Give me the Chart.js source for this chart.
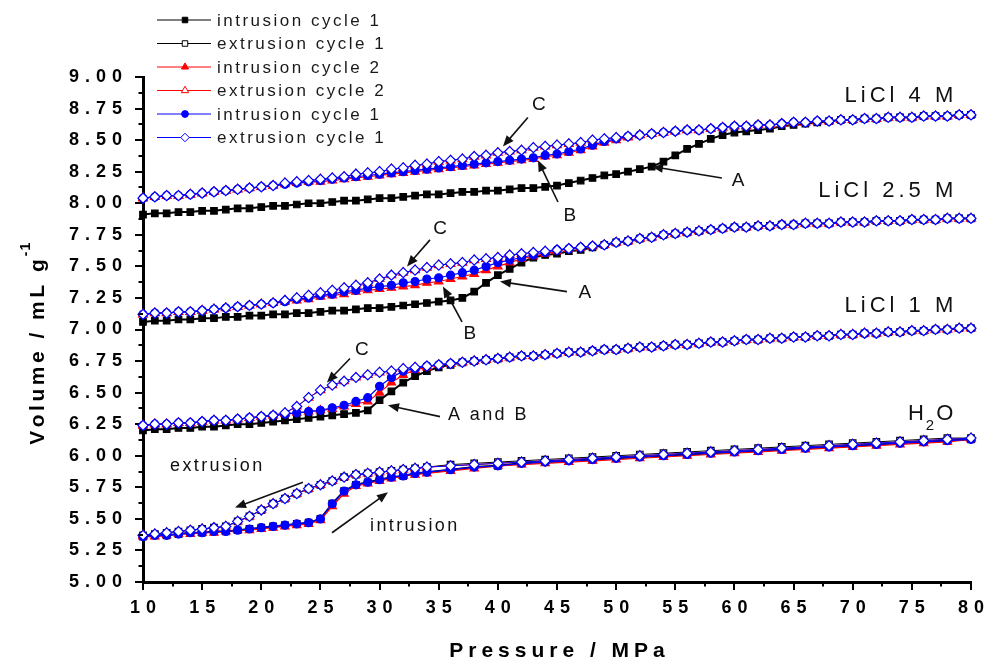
<!DOCTYPE html>
<html><head><meta charset="utf-8">
<script src="https://cdn.jsdelivr.net/npm/chart.js@4"></script>
<style>html,body{margin:0;padding:0;background:#fff}canvas{display:block}</style>
</head><body>
<canvas id="c" width="990" height="664"></canvas>
<script>
// ---------- data ----------
const PRESSURE = [10,11,12,13,14,15,16,17,18,19,20,21,22,23,24,25,26,27,28,29,30,31,32,33,34,35,36,37,38,39,40,41,42,43,44,45,46,47,48,49,50,51,52,53,54,55,56,57,58,59,60,61,62,63,64,65,66,67,68,69,70,71,72,73,74,75,76,77,78,79,80];
const PRESSURE_H2O = [10,11,12,13,14,15,16,17,18,19,20,21,22,23,24,25,26,27,28,29,30,31,32,33,34,36,38,40,42,44,46,48,50,52,54,56,58,60,62,64,66,68,70,72,74,76,78,80];

const X_TICKS = [10,15,20,25,30,35,40,45,50,55,60,65,70,75,80];
const Y_TICKS = [5.00,5.25,5.50,5.75,6.00,6.25,6.50,6.75,7.00,7.25,7.50,7.75,8.00,8.25,8.50,8.75,9.00];

const SERIES = ['intrusion cycle 1','extrusion cycle 1','intrusion cycle 2','extrusion cycle 2','intrusion cycle 1','extrusion cycle 1'];

// LiCl 4 M
const LICL4_INTR1 = [7.91,7.92,7.92,7.93,7.93,7.94,7.94,7.95,7.96,7.96,
 7.97,7.98,7.98,7.99,8.00,8.00,8.01,8.02,8.02,8.03,
 8.04,8.04,8.05,8.06,8.07,8.07,8.08,8.09,8.09,8.10,
 8.10,8.11,8.12,8.12,8.13,8.14,8.16,8.18,8.20,8.22,
 8.23,8.25,8.27,8.29,8.33,8.38,8.43,8.47,8.51,8.54,
 8.56,8.57,8.58,8.59,8.61,8.62,8.63,8.64,8.65,8.66,
 8.66,8.67,8.67,8.68,8.68,8.68,8.69,8.69,8.69,8.70,8.70];
const LICL4_INTR2 = [8.04,8.05,8.06,8.06,8.07,8.08,8.09,8.10,8.11,8.12,
 8.13,8.14,8.15,8.16,8.17,8.17,8.18,8.19,8.20,8.21,
 8.22,8.23,8.24,8.25,8.26,8.27,8.28,8.29,8.30,8.31,
 8.32,8.33,8.34,8.35,8.37,8.38,8.40,8.42,8.45,8.48,
 8.50,8.52,8.54,8.55,8.56,8.57,8.58,8.58,8.59,8.60,
 8.61,8.61,8.62,8.62,8.63,8.64,8.64,8.65,8.65,8.66,
 8.66,8.67,8.67,8.68,8.68,8.68,8.69,8.69,8.69,8.70,8.70];
const LICL4_INTR3 = [8.04,8.05,8.06,8.06,8.07,8.08,8.09,8.10,8.11,8.12,
 8.13,8.14,8.15,8.16,8.17,8.18,8.19,8.20,8.21,8.22,
 8.23,8.24,8.25,8.26,8.27,8.28,8.29,8.30,8.31,8.32,
 8.33,8.34,8.35,8.36,8.38,8.39,8.41,8.43,8.46,8.49,
 8.51,8.53,8.54,8.55,8.56,8.57,8.58,8.58,8.59,8.60,
 8.61,8.61,8.62,8.62,8.63,8.64,8.64,8.65,8.65,8.66,
 8.66,8.67,8.67,8.68,8.68,8.68,8.69,8.69,8.69,8.70,8.70];
const LICL4_EXTR = [8.04,8.05,8.06,8.06,8.07,8.08,8.09,8.10,8.11,8.12,
 8.13,8.14,8.16,8.17,8.18,8.19,8.20,8.21,8.23,8.24,
 8.25,8.27,8.28,8.30,8.31,8.33,8.34,8.35,8.37,8.38,
 8.40,8.41,8.42,8.44,8.45,8.46,8.47,8.48,8.50,8.51,
 8.52,8.53,8.54,8.55,8.56,8.57,8.58,8.58,8.59,8.60,
 8.61,8.61,8.62,8.62,8.63,8.64,8.64,8.65,8.65,8.66,
 8.66,8.67,8.67,8.68,8.68,8.68,8.69,8.69,8.69,8.70,8.70];

// LiCl 2.5 M
const LICL25_INTR1 = [7.06,7.07,7.07,7.08,7.08,7.09,7.09,7.10,7.10,7.11,
 7.11,7.12,7.12,7.13,7.13,7.14,7.15,7.15,7.16,7.17,
 7.17,7.18,7.19,7.20,7.21,7.22,7.23,7.25,7.30,7.37,
 7.43,7.48,7.53,7.57,7.59,7.60,7.62,7.63,7.65,7.67,
 7.69,7.70,7.72,7.73,7.75,7.76,7.77,7.78,7.79,7.80,
 7.81,7.81,7.82,7.82,7.83,7.83,7.84,7.84,7.84,7.85,
 7.85,7.85,7.86,7.86,7.86,7.87,7.87,7.87,7.88,7.88,7.88];
const LICL25_INTR2 = [7.12,7.13,7.13,7.14,7.14,7.15,7.16,7.17,7.18,7.19,
 7.20,7.21,7.22,7.23,7.24,7.26,7.27,7.28,7.30,7.31,
 7.32,7.33,7.34,7.35,7.37,7.38,7.40,7.42,7.44,7.47,
 7.50,7.53,7.56,7.58,7.60,7.62,7.64,7.65,7.66,7.67,
 7.69,7.70,7.72,7.73,7.75,7.76,7.77,7.78,7.79,7.80,
 7.81,7.81,7.82,7.82,7.83,7.83,7.84,7.84,7.84,7.85,
 7.85,7.85,7.86,7.86,7.86,7.87,7.87,7.87,7.88,7.88,7.88];
const LICL25_INTR3 = [7.12,7.13,7.13,7.14,7.14,7.15,7.16,7.17,7.18,7.19,
 7.20,7.21,7.22,7.24,7.25,7.27,7.28,7.30,7.31,7.33,
 7.34,7.35,7.37,7.38,7.40,7.41,7.43,7.45,7.47,7.50,
 7.53,7.55,7.57,7.59,7.61,7.63,7.64,7.65,7.66,7.67,
 7.69,7.70,7.72,7.73,7.75,7.76,7.77,7.78,7.79,7.80,
 7.81,7.81,7.82,7.82,7.83,7.83,7.84,7.84,7.84,7.85,
 7.85,7.85,7.86,7.86,7.86,7.87,7.87,7.87,7.88,7.88,7.88];
const LICL25_EXTR = [7.12,7.13,7.13,7.14,7.14,7.15,7.16,7.17,7.18,7.19,
 7.20,7.21,7.23,7.25,7.27,7.29,7.31,7.33,7.35,7.37,
 7.40,7.43,7.45,7.47,7.49,7.51,7.52,7.53,7.55,7.56,
 7.57,7.59,7.60,7.61,7.62,7.63,7.64,7.65,7.66,7.67,
 7.69,7.70,7.72,7.73,7.75,7.76,7.77,7.78,7.79,7.80,
 7.81,7.81,7.82,7.82,7.83,7.83,7.84,7.84,7.84,7.85,
 7.85,7.85,7.86,7.86,7.86,7.87,7.87,7.87,7.88,7.88,7.88];

// LiCl 1 M
const LICL1_INTR1 = [6.20,6.21,6.21,6.22,6.22,6.23,6.23,6.24,6.25,6.25,
 6.26,6.27,6.28,6.29,6.30,6.31,6.32,6.33,6.34,6.36,
 6.44,6.51,6.58,6.63,6.67,6.70,6.72,6.74,6.75,6.76,
 6.77,6.78,6.79,6.79,6.80,6.81,6.82,6.82,6.83,6.84,
 6.84,6.85,6.86,6.86,6.87,6.88,6.88,6.89,6.90,6.90,
 6.91,6.92,6.92,6.93,6.93,6.94,6.94,6.95,6.95,6.96,
 6.96,6.97,6.97,6.98,6.98,6.99,6.99,7.00,7.00,7.01,7.01];
const LICL1_INTR2 = [6.24,6.25,6.25,6.26,6.26,6.27,6.28,6.28,6.29,6.30,
 6.31,6.32,6.33,6.34,6.35,6.36,6.37,6.39,6.41,6.43,
 6.50,6.58,6.64,6.68,6.70,6.72,6.73,6.74,6.75,6.76,
 6.77,6.78,6.79,6.79,6.80,6.81,6.82,6.82,6.83,6.84,
 6.84,6.85,6.86,6.86,6.87,6.88,6.88,6.89,6.90,6.90,
 6.91,6.92,6.92,6.93,6.93,6.94,6.94,6.95,6.95,6.96,
 6.96,6.97,6.97,6.98,6.98,6.99,6.99,7.00,7.00,7.01,7.01];
const LICL1_INTR3 = [6.24,6.25,6.25,6.26,6.26,6.27,6.28,6.28,6.29,6.30,
 6.31,6.32,6.33,6.34,6.35,6.36,6.38,6.40,6.43,6.46,
 6.55,6.62,6.67,6.69,6.71,6.72,6.73,6.74,6.75,6.76,
 6.77,6.78,6.79,6.79,6.80,6.81,6.82,6.82,6.83,6.84,
 6.84,6.85,6.86,6.86,6.87,6.88,6.88,6.89,6.90,6.90,
 6.91,6.92,6.92,6.93,6.93,6.94,6.94,6.95,6.95,6.96,
 6.96,6.97,6.97,6.98,6.98,6.99,6.99,7.00,7.00,7.01,7.01];
const LICL1_EXTR = [6.24,6.25,6.25,6.26,6.26,6.27,6.28,6.28,6.29,6.30,
 6.31,6.32,6.34,6.39,6.46,6.52,6.56,6.59,6.62,6.64,
 6.66,6.67,6.69,6.70,6.71,6.72,6.73,6.74,6.75,6.76,
 6.77,6.78,6.79,6.79,6.80,6.81,6.82,6.82,6.83,6.84,
 6.84,6.85,6.86,6.86,6.87,6.88,6.88,6.89,6.90,6.90,
 6.91,6.92,6.92,6.93,6.93,6.94,6.94,6.95,6.95,6.96,
 6.96,6.97,6.97,6.98,6.98,6.99,6.99,7.00,7.00,7.01,7.01];

// H2O
const H2O_INTR1 = [5.36,5.37,5.37,5.38,5.39,5.39,5.40,5.40,5.41,5.42,
 5.43,5.44,5.45,5.46,5.47,5.50,5.62,5.72,5.77,5.79,
 5.81,5.83,5.84,5.86,5.87,
 5.89,5.91,5.92,5.94,5.95,5.96,5.97,5.98,5.99,6.00,6.01,6.02,6.03,6.04,6.05,6.06,6.07,6.08,6.09,6.10,6.11,6.12,6.13];
const H2O_EXTR1 = [5.37,5.38,5.39,5.40,5.41,5.42,5.43,5.44,5.48,5.52,
 5.57,5.62,5.66,5.70,5.74,5.77,5.80,5.83,5.85,5.86,
 5.87,5.88,5.89,5.90,5.91,
 5.93,5.94,5.95,5.96,5.97,5.98,5.99,6.00,6.01,6.02,6.03,6.04,6.05,6.06,6.07,6.08,6.09,6.10,6.11,6.12,6.13,6.14,6.14];
const H2O_INTR2 = [5.36,5.36,5.37,5.38,5.38,5.39,5.39,5.40,5.41,5.41,
 5.42,5.43,5.44,5.45,5.46,5.49,5.60,5.70,5.76,5.78,
 5.80,5.82,5.84,5.85,5.86,
 5.88,5.90,5.92,5.93,5.94,5.95,5.96,5.97,5.98,5.99,6.00,6.01,6.02,6.03,6.04,6.05,6.06,6.07,6.08,6.09,6.10,6.11,6.13];
const H2O_INTR3 = [5.36,5.37,5.37,5.38,5.39,5.39,5.40,5.40,5.41,5.42,
 5.43,5.44,5.45,5.46,5.47,5.50,5.62,5.72,5.77,5.79,
 5.81,5.83,5.84,5.86,5.87,
 5.89,5.91,5.92,5.94,5.95,5.96,5.97,5.98,5.99,6.00,6.01,6.02,6.03,6.04,6.05,6.06,6.07,6.08,6.09,6.10,6.11,6.12,6.13];
const H2O_EXTR = [5.37,5.38,5.39,5.40,5.41,5.42,5.43,5.44,5.48,5.52,
 5.57,5.62,5.66,5.70,5.74,5.77,5.80,5.83,5.85,5.86,
 5.87,5.88,5.89,5.90,5.91,
 5.92,5.93,5.94,5.95,5.96,5.97,5.98,5.99,6.00,6.01,6.02,6.03,6.04,6.05,6.06,6.07,6.08,6.09,6.10,6.11,6.12,6.13,6.14];

// Annotations (in data units: pressure, volume)
const CURVE_LABELS = [
  {text:'LiCl 4 M', p:78.5, v:8.85},
  {text:'LiCl 2.5 M', p:78.5, v:8.10},
  {text:'LiCl 1 M', p:78.5, v:7.19}
];
const LETTER_LABELS = [
  {text:'C', p:43.47, v:8.78, align:'center'},
  {text:'B', p:46.09, v:7.90, align:'center'},
  {text:'A', p:60.30, v:8.18, align:'center'},
  {text:'C', p:35.11, v:7.80, align:'center'},
  {text:'B', p:37.64, v:6.97, align:'center'},
  {text:'A', p:47.36, v:7.29, align:'center'},
  {text:'C', p:28.51, v:6.84, align:'center'},
  {text:'A and B', p:35.78, v:6.32, align:'left'},
  {text:'extrusion', p:12.28, v:5.92, align:'left'},
  {text:'intrusion', p:29.19, v:5.44, align:'left'}
];
const ARROWS = [
  [42.54,8.68,40.43,8.45],
  [45.08,8.01,43.39,8.34],
  [58.94,8.20,53.03,8.29],
  [34.26,7.71,32.32,7.50],
  [36.97,7.06,35.36,7.34],
  [45.84,7.30,40.18,7.38],
  [27.50,6.77,25.55,6.58],
  [35.11,6.31,30.71,6.40],
  [23.52,5.79,17.78,5.59],
  [25.98,5.39,30.71,5.71]
];

// ---------- styles ----------
const FONT = '"Liberation Sans", Arial, Helvetica, sans-serif';
const STYLES = [
  {color:'#000000', point:'rect',     fill:'#000000', r:4.6, order:5, lw:2},
  {color:'#000000', point:'rect',     fill:'#ffffff', r:4.6, order:4, lw:1},
  {color:'#ff0000', point:'triangle', fill:'#ff0000', r:4.8, order:3, lw:1.2},
  {color:'#ff0000', point:'triangle', fill:'#ffffff', r:5,   order:2, lw:1},
  {color:'#0000ff', point:'circle',   fill:'#0000ff', r:4,   order:1, lw:1.2},
  {color:'#0000ff', point:'rectRot',  fill:'#ffffff', r:5,   order:0, lw:1}
];
const CURVES = [
  {p:PRESSURE, s:[LICL4_INTR1, null, LICL4_INTR2, LICL4_EXTR, LICL4_INTR3, LICL4_EXTR]},
  {p:PRESSURE, s:[LICL25_INTR1, null, LICL25_INTR2, LICL25_EXTR, LICL25_INTR3, LICL25_EXTR]},
  {p:PRESSURE, s:[LICL1_INTR1, null, LICL1_INTR2, LICL1_EXTR, LICL1_INTR3, LICL1_EXTR]},
  {p:PRESSURE_H2O, s:[H2O_INTR1, H2O_EXTR1, H2O_INTR2, H2O_EXTR, H2O_INTR3, H2O_EXTR]}
];

const datasets = [];
CURVES.forEach(c => {
  c.s.forEach((ys, si) => {
    if (!ys) return;
    const st = STYLES[si];
    datasets.push({
      label: SERIES[si],
      data: c.p.map((x, i) => ({x: x, y: ys[i]})),
      borderColor: st.color,
      backgroundColor: st.fill,
      pointStyle: st.point,
      pointRadius: st.r,
      pointBorderColor: st.color,
      pointBackgroundColor: st.fill,
      pointBorderWidth: 1.2,
      borderWidth: st.lw,
      order: st.order,
      tension: 0,
      clip: false
    });
  });
});

// ---------- helpers ----------
function spacedText(ctx, text, x, y, sp, align) {
  const chars = Array.from(text);
  const widths = chars.map(ch => ctx.measureText(ch).width);
  const total = widths.reduce((a, b) => a + b, 0) + sp * (chars.length - 1);
  let cx = align === 'center' ? x - total / 2 : (align === 'right' ? x - total : x);
  ctx.textAlign = 'left';
  chars.forEach((ch, i) => { ctx.fillText(ch, cx, y); cx += widths[i] + sp; });
  return total;
}
function spacedWidth(ctx, text, sp) {
  const chars = Array.from(text);
  return chars.reduce((a, ch) => a + ctx.measureText(ch).width, 0) + sp * (chars.length - 1);
}
function marker(ctx, st, x, y) {
  ctx.save();
  ctx.fillStyle = st.fill; ctx.strokeStyle = st.color; ctx.lineWidth = 1;
  ctx.beginPath();
  const r = st.r * 0.85;
  if (st.point === 'rect') { const s = r * Math.SQRT1_2; ctx.rect(x - s, y - s, 2 * s, 2 * s); }
  else if (st.point === 'circle') { ctx.arc(x, y, r, 0, Math.PI * 2); }
  else if (st.point === 'rectRot') { ctx.moveTo(x, y - r); ctx.lineTo(x + r, y); ctx.lineTo(x, y + r); ctx.lineTo(x - r, y); ctx.closePath(); }
  else if (st.point === 'triangle') {
    ctx.moveTo(x, y - r); ctx.lineTo(x + r * 0.866, y + r * 0.5); ctx.lineTo(x - r * 0.866, y + r * 0.5); ctx.closePath();
  }
  ctx.fill(); ctx.stroke();
  ctx.restore();
}
function arrow(ctx, x1, y1, x2, y2) {
  const ang = Math.atan2(y2 - y1, x2 - x1);
  const L = 11, W = 4.5;
  ctx.save();
  ctx.strokeStyle = '#111'; ctx.fillStyle = '#111'; ctx.lineWidth = 1.6;
  ctx.beginPath();
  ctx.moveTo(x1, y1);
  ctx.lineTo(x2 - Math.cos(ang) * (L - 2), y2 - Math.sin(ang) * (L - 2));
  ctx.stroke();
  ctx.beginPath();
  ctx.moveTo(x2, y2);
  ctx.lineTo(x2 - Math.cos(ang) * L - Math.sin(ang) * W, y2 - Math.sin(ang) * L + Math.cos(ang) * W);
  ctx.lineTo(x2 - Math.cos(ang) * L + Math.sin(ang) * W, y2 - Math.sin(ang) * L - Math.cos(ang) * W);
  ctx.closePath();
  ctx.fill();
  ctx.restore();
}

// ---------- decoration plugin ----------
const decor = {
  id: 'decor',
  afterDraw(chart) {
    const ctx = chart.ctx;
    const xs = chart.scales.x, ys = chart.scales.y, area = chart.chartArea;
    ctx.save();
    // minor ticks
    ctx.strokeStyle = '#000'; ctx.lineWidth = 2;
    for (let i = 0; i < X_TICKS.length - 1; i++) {
      const px = Math.round(xs.getPixelForValue((X_TICKS[i] + X_TICKS[i + 1]) / 2));
      ctx.beginPath(); ctx.moveTo(px, area.bottom); ctx.lineTo(px, area.bottom + 4.5); ctx.stroke();
    }
    for (let i = 0; i < Y_TICKS.length - 1; i++) {
      const py = Math.round(ys.getPixelForValue((Y_TICKS[i] + Y_TICKS[i + 1]) / 2));
      ctx.beginPath(); ctx.moveTo(area.left, py); ctx.lineTo(area.left - 4.5, py); ctx.stroke();
    }
    // tick labels
    ctx.fillStyle = '#000';
    ctx.font = 'bold 18px ' + FONT;
    ctx.textBaseline = 'middle';
    X_TICKS.forEach(v => spacedText(ctx, String(v), xs.getPixelForValue(v), 608, 6, 'center'));
    Y_TICKS.forEach(v => spacedText(ctx, v.toFixed(2), 122, ys.getPixelForValue(v), 6, 'right'));
    // axis titles
    ctx.font = 'bold 21px ' + FONT;
    spacedText(ctx, 'Pressure / MPa', (area.left + area.right) / 2, 651, 5, 'center');
    ctx.save();
    ctx.translate(38, 352);
    ctx.rotate(-Math.PI / 2);
    const w = spacedWidth(ctx, 'Volume / mL g', 3.5);
    spacedText(ctx, 'Volume / mL g', -w / 2, 0, 3.5, 'left');
    ctx.font = 'bold 14px ' + FONT;
    spacedText(ctx, '-1', w / 2 + 3, -12, 1, 'left');
    ctx.restore();
    // curve labels
    ctx.fillStyle = '#111';
    ctx.font = '22px ' + FONT;
    CURVE_LABELS.forEach(l => spacedText(ctx, l.text, xs.getPixelForValue(l.p), ys.getPixelForValue(l.v), 4, 'right'));
    // H2O label with subscript
    {
      const rx = xs.getPixelForValue(78.5), cy = ys.getPixelForValue(6.33);
      ctx.font = '22px ' + FONT; const wH = ctx.measureText('H').width, wO = ctx.measureText('O').width;
      ctx.font = '15px ' + FONT; const w2 = ctx.measureText('2').width;
      let x0 = rx - (wH + w2 + wO + 4);
      ctx.font = '22px ' + FONT; ctx.textAlign = 'left';
      ctx.fillText('H', x0, cy);
      ctx.font = '15px ' + FONT; ctx.fillText('2', x0 + wH + 2, cy + 12);
      ctx.font = '22px ' + FONT; ctx.fillText('O', x0 + wH + w2 + 4, cy);
    }
    // letters and words
    LETTER_LABELS.forEach(l => {
      ctx.font = (l.text.length === 1 ? '19px ' : '18px ') + FONT;
      spacedText(ctx, l.text, xs.getPixelForValue(l.p), ys.getPixelForValue(l.v), 2.4, l.align);
    });
    ARROWS.forEach(a => arrow(ctx, xs.getPixelForValue(a[0]), ys.getPixelForValue(a[1]), xs.getPixelForValue(a[2]), ys.getPixelForValue(a[3])));
    // legend
    ctx.font = '17px ' + FONT;
    SERIES.forEach((name, i) => {
      const y = 20 + i * 23.5, st = STYLES[i];
      ctx.strokeStyle = st.color; ctx.lineWidth = 1;
      ctx.beginPath(); ctx.moveTo(157, y); ctx.lineTo(211, y); ctx.stroke();
      marker(ctx, st, 185, y);
      ctx.fillStyle = '#1a1a1a';
      spacedText(ctx, name, 217, y + 1, 2.5, 'left');
    });
    ctx.restore();
  }
};

const axisCommon = {
  type: 'linear',
  ticks: {display: false},
  grid: {drawOnChartArea: false, drawTicks: true, tickLength: 8, color: '#000', lineWidth: 2},
  border: {display: true, color: '#000', width: 3}
};

new Chart(document.getElementById('c').getContext('2d'), {
  type: 'line',
  data: {datasets: datasets},
  options: {
    responsive: false,
    animation: false,
    layout: {padding: {left: 135, right: 19, top: 77, bottom: 74}},
    plugins: {legend: {display: false}, tooltip: {enabled: false}},
    scales: {
      x: Object.assign({}, axisCommon, {min: 10, max: 80,
        afterBuildTicks: s => { s.ticks = X_TICKS.map(v => ({value: v})); }}),
      y: Object.assign({}, axisCommon, {min: 5, max: 9,
        afterBuildTicks: s => { s.ticks = Y_TICKS.map(v => ({value: v})); }})
    }
  },
  plugins: [decor]
});
</script>
</body></html>
